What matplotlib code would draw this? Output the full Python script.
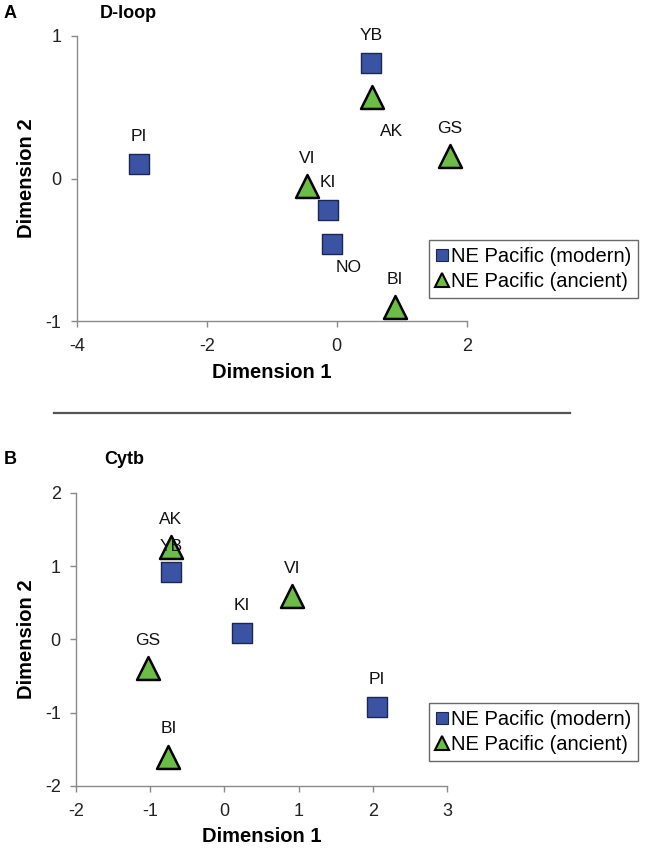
import matplotlib
matplotlib.use("Agg")
import matplotlib.pyplot as plt
from matplotlib.lines import Line2D

plt.rcParams['font.family'] = ['Liberation Sans', 'DejaVu Sans']
plt.rcParams['axes.unicode_minus'] = False

# ---------------- data ----------------
# Panel A (D-loop)
dloop_modern_labels = ["PI", "YB", "KI", "NO"]
dloop_modern_x = [-3.04, 0.53, -0.14, -0.07]
dloop_modern_y = [0.10, 0.81, -0.22, -0.46]
dloop_ancient_labels = ["AK", "GS", "VI", "BI"]
dloop_ancient_x = [0.55, 1.74, -0.46, 0.89]
dloop_ancient_y = [0.575, 0.155, -0.055, -0.905]

# Panel B (Cytb)
cytb_modern_labels = ["YB", "KI", "PI"]
cytb_modern_x = [-0.72, 0.24, 2.05]
cytb_modern_y = [0.92, 0.085, -0.925]
cytb_ancient_labels = ["AK", "VI", "GS", "BI"]
cytb_ancient_x = [-0.72, 0.91, -1.03, -0.755]
cytb_ancient_y = [1.26, 0.59, -0.39, -1.60]

dloop_xticks = [-4, -2, 0, 2]
dloop_yticks = [-1, 0, 1]
cytb_xticks = [-2, -1, 0, 1, 2, 3]
cytb_yticks = [-2, -1, 0, 1, 2]

legend_labels = ["NE Pacific (modern)", "NE Pacific (ancient)"]

# ---------------- style ----------------
SQ_FACE = "#3b53a3"
SQ_EDGE = "#1c2650"
TRI_FACE = "#6cbd45"
TRI_EDGE = "#000000"
AXCOL = "#8a8a8a"

W, H = 664, 851
fig = plt.figure(figsize=(W / 100, H / 100), dpi=100)


def px_axes(left, top, right, bottom):
    return fig.add_axes([left / W, 1 - bottom / H, (right - left) / W, (bottom - top) / H])


# label offsets in points (dx, dy); default is straight above
UP = (0, 20)
dloop_label_off = {("m", "KI"): UP, ("a", "AK"): (14, -25), ("m", "NO"): (12, -17)}
cytb_label_off = {("m", "YB"): (0, 18)}


def draw_panel(ax, mx, my, mlab, axx, axy, alab, xlim, ylim, xticks, yticks, offs):
    ax.scatter(mx, my, marker='s', s=14.5 ** 2, c=SQ_FACE, edgecolors=SQ_EDGE,
               linewidths=1.0, zorder=3, clip_on=False)
    ax.scatter(axx, axy, marker='^', s=16.5 ** 2, c=TRI_FACE, edgecolors=TRI_EDGE,
               linewidths=1.8, zorder=4, clip_on=False)
    for x, y, t in zip(mx, my, mlab):
        dx, dy = offs.get(("m", t), UP)
        ax.annotate(t, (x, y), xytext=(dx, dy), textcoords='offset points',
                    ha='center', va='center', fontsize=12.5, color='#111111',
                    zorder=5, annotation_clip=False)
    for x, y, t in zip(axx, axy, alab):
        dx, dy = offs.get(("a", t), UP)
        ax.annotate(t, (x, y), xytext=(dx, dy), textcoords='offset points',
                    ha='center', va='center', fontsize=12.5, color='#111111',
                    zorder=5, annotation_clip=False)
    ax.set_xlim(*xlim)
    ax.set_ylim(*ylim)
    ax.set_xticks(xticks)
    ax.set_yticks(yticks)
    for s in ("top", "right"):
        ax.spines[s].set_visible(False)
    for s in ("left", "bottom"):
        ax.spines[s].set_color(AXCOL)
        ax.spines[s].set_linewidth(1.0)
    ax.tick_params(direction='out', length=4, width=1.0, color=AXCOL,
                   labelsize=13, labelcolor='#222222')
    ax.tick_params(axis='x', pad=8)
    ax.tick_params(axis='y', pad=7)
    ax.set_xlabel("Dimension 1", fontsize=14.5, fontweight='bold')
    ax.set_ylabel("Dimension 2", fontsize=14.5, fontweight='bold')
    ax.patch.set_visible(False)


def add_legend(ax, left, top):
    handles = [
        Line2D([], [], linestyle='none', marker='s', markersize=8.5,
               markerfacecolor=SQ_FACE, markeredgecolor=SQ_EDGE, markeredgewidth=0.8),
        Line2D([], [], linestyle='none', marker='^', markersize=10,
               markerfacecolor=TRI_FACE, markeredgecolor=TRI_EDGE, markeredgewidth=1.5),
    ]
    leg = ax.legend(handles, legend_labels, loc='upper left',
                    bbox_to_anchor=(left / W, 1 - top / H), bbox_transform=fig.transFigure,
                    borderaxespad=0, fancybox=False, frameon=True, fontsize=14.5,
                    handlelength=0.6, handletextpad=0.12, borderpad=0.35,
                    labelspacing=0.3)
    fr = leg.get_frame()
    fr.set_edgecolor('#444444')
    fr.set_linewidth(1.0)
    return leg


# Panel A
axA = px_axes(76.7, 36, 466.7, 321)
draw_panel(axA, dloop_modern_x, dloop_modern_y, dloop_modern_labels,
           dloop_ancient_x, dloop_ancient_y, dloop_ancient_labels,
           (-4, 2), (-1, 1), dloop_xticks, dloop_yticks, dloop_label_off)
axA.xaxis.set_label_coords(0.5, -(373 - 321) / 285)
axA.xaxis.label.set_va('center')
axA.yaxis.set_label_coords((27 - 76.7) / 390, 0.5)
axA.yaxis.label.set_va('center')
add_legend(axA, 429, 240)

# Panel B
axB = px_axes(76, 492.7, 447, 786)
draw_panel(axB, cytb_modern_x, cytb_modern_y, cytb_modern_labels,
           cytb_ancient_x, cytb_ancient_y, cytb_ancient_labels,
           (-2, 3), (-2, 2), cytb_xticks, cytb_yticks, cytb_label_off)
axB.xaxis.set_label_coords(0.5, -(837 - 786) / 293.3)
axB.xaxis.label.set_va('center')
axB.yaxis.set_label_coords((27 - 76) / 371, 0.5)
axB.yaxis.label.set_va('center')
add_legend(axB, 429, 703)

# panel letters and titles
fig.text(4 / W, 1 - 14 / H, "A", fontsize=13, fontweight='bold', va='center', ha='left')
fig.text(100 / W, 1 - 14 / H, "D-loop", fontsize=13, fontweight='bold', va='center', ha='left')
fig.text(4 / W, 1 - 460 / H, "B", fontsize=13, fontweight='bold', va='center', ha='left')
fig.text(104 / W, 1 - 460 / H, "Cytb", fontsize=13, fontweight='bold', va='center', ha='left')

# separator line
fig.add_artist(Line2D([54 / W, 570 / W], [1 - 412.7 / H, 1 - 412.7 / H],
                      transform=fig.transFigure, color='#555555', linewidth=1.6))

fig.savefig("out.png", dpi=100)
